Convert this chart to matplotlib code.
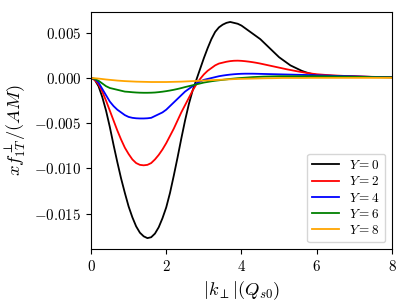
import matplotlib
matplotlib.use("Agg")
import matplotlib.pyplot as plt
from matplotlib.ticker import FuncFormatter

plt.rcParams['mathtext.fontset'] = 'cm'
plt.rcParams['font.family'] = 'serif'
plt.rcParams['font.serif'] = ['cmr10', 'DejaVu Serif']
plt.rcParams['axes.formatter.use_mathtext'] = True

# |k_perp| grid (Q_s0 units)
k = [0.0, 0.1, 0.2, 0.3, 0.4, 0.5, 0.6, 0.7, 0.8, 0.9,
     1.0, 1.1, 1.2, 1.3, 1.4, 1.5, 1.6, 1.7, 1.8, 1.9,
     2.0, 2.1, 2.2, 2.3, 2.4, 2.5, 2.6, 2.7, 2.8, 2.9,
     3.0, 3.1, 3.2, 3.3, 3.4, 3.5, 3.6, 3.7, 3.8, 3.9,
     4.0, 4.1, 4.2, 4.3, 4.4, 4.5, 4.6, 4.7, 4.8, 4.9,
     5.0, 5.1, 5.2, 5.3, 5.4, 5.5, 5.6, 5.7, 5.8, 5.9,
     6.0, 6.25, 6.5, 6.75, 7.0, 7.25, 7.5, 7.75, 8.0]

y0 = [0.0, -0.0002, -0.0009, -0.0021, -0.0036, -0.0054, -0.0074, -0.0093, -0.0111, -0.0127,
      -0.0142, -0.0154, -0.0164, -0.0171, -0.0175, -0.0177, -0.0176, -0.0172, -0.0165, -0.0155,
      -0.0143, -0.0127, -0.0108, -0.0088, -0.0067, -0.0047, -0.0029, -0.0014, -0.0002, 0.0010,
      0.0022, 0.0033, 0.0043, 0.0051, 0.0056, 0.0059, 0.0061, 0.0062, 0.0061, 0.0060,
      0.0058, 0.0055, 0.0052, 0.0049, 0.0046, 0.0043, 0.0039, 0.0035, 0.0031, 0.0027,
      0.0023, 0.0020, 0.0017, 0.0014, 0.0012, 0.0010, 0.0008, 0.00065, 0.00052, 0.00042,
      0.00034, 0.00027, 0.00022, 0.00018, 0.00016, 0.00014, 0.00012, 0.00011, 0.0001]

y2 = [0.0, -0.0002, -0.0007, -0.0015, -0.0025, -0.0036, -0.0047, -0.0058, -0.0068, -0.0077,
      -0.0084, -0.0090, -0.0094, -0.0096, -0.00965, -0.0096, -0.0094, -0.0090, -0.0085, -0.0079,
      -0.0072, -0.0064, -0.0056, -0.0047, -0.0038, -0.0030, -0.0022, -0.0014, -0.0007, -0.0001,
      0.0004, 0.0008, 0.0011, 0.0014, 0.0016, 0.0017, 0.0018, 0.00187, 0.00191, 0.00192,
      0.0019, 0.00186, 0.00181, 0.00175, 0.00168, 0.0016, 0.00151, 0.00142, 0.00133, 0.00124,
      0.00115, 0.00106, 0.00097, 0.00089, 0.00081, 0.00073, 0.00066, 0.00059, 0.00053, 0.00047,
      0.00042, 0.00034, 0.00028, 0.00023, 0.0002, 0.00016, 0.00013, 0.00011, 0.0001]

y4 = [0.0, -0.0001, -0.0005, -0.0012, -0.0019, -0.0026, -0.0031, -0.0035, -0.0038, -0.0041,
      -0.0043, -0.0044, -0.00445, -0.00447, -0.00447, -0.00445, -0.0044, -0.0042, -0.0040, -0.0038,
      -0.0035, -0.0031, -0.0027, -0.0023, -0.0019, -0.0015, -0.0012, -0.0009, -0.0006, -0.0004,
      -0.0002, -0.0001, 0.0, 0.0001, 0.0002, 0.00027, 0.00033, 0.00038, 0.00042, 0.00045,
      0.00047, 0.00048, 0.00048, 0.00048, 0.00047, 0.00046, 0.00045, 0.00044, 0.00043, 0.00042,
      0.00041, 0.0004, 0.00039, 0.00038, 0.00037, 0.00036, 0.00035, 0.00034, 0.00033, 0.00032,
      0.0003, 0.00027, 0.00024, 0.00021, 0.00018, 0.00015, 0.00012, 0.0001, 0.00008]

y6 = [0.0, -0.0001, -0.0003, -0.0006, -0.0009, -0.0011, -0.0012, -0.0013, -0.0014, -0.0015,
      -0.00153, -0.00157, -0.0016, -0.00162, -0.00163, -0.00163, -0.00162, -0.0016, -0.00156, -0.00151,
      -0.00145, -0.00138, -0.0013, -0.00121, -0.00111, -0.001, -0.0009, -0.0008, -0.0007, -0.0006,
      -0.0005, -0.00043, -0.00036, -0.0003, -0.00025, -0.0002, -0.00015, -0.0001, -0.00006, -0.00002,
      0.00001, 0.00004, 0.00007, 0.0001, 0.00012, 0.00014, 0.00016, 0.00017, 0.00018, 0.00019,
      0.0002, 0.0002, 0.0002, 0.0002, 0.0002, 0.0002, 0.0002, 0.0002, 0.0002, 0.0002,
      0.0002, 0.00019, 0.00018, 0.00016, 0.00014, 0.00012, 0.0001, 0.00009, 0.00008]

y8 = [0.0, -0.00002, -0.00006, -0.00011, -0.00016, -0.0002, -0.00024, -0.00028, -0.00031, -0.00034,
      -0.00036, -0.00038, -0.0004, -0.00041, -0.00042, -0.00043, -0.00044, -0.00044, -0.00044, -0.00044,
      -0.00044, -0.00043, -0.00042, -0.00041, -0.0004, -0.00038, -0.00036, -0.00034, -0.00032, -0.0003,
      -0.00028, -0.00026, -0.00024, -0.00022, -0.0002, -0.00018, -0.00016, -0.00014, -0.00012, -0.0001,
      -0.00009, -0.00008, -0.00007, -0.00006, -0.00005, -0.00004, -0.00003, -0.00002, -0.00002, -0.00001,
      0.0, 0.00001, 0.00001, 0.00001, 0.00001, 0.00001, 0.00001, 0.00001, 0.00002, 0.00002,
      0.00002, 0.00002, 0.00002, 0.00002, 0.00002, 0.00002, 0.00002, 0.00002, 0.00002]

curves = [y0, y2, y4, y6, y8]
labels = ['$Y = 0$', '$Y = 2$', '$Y = 4$', '$Y = 6$', '$Y = 8$']
colors = ['black', 'red', 'blue', 'green', 'orange']

fig = plt.figure(figsize=(4.06, 3.04), dpi=100)
ax = fig.add_axes([0.2241, 0.181, 0.7414, 0.7795])

for yy, lab, c in zip(curves, labels, colors):
    ax.plot(k, yy, color=c, lw=1.3, label=lab)

ax.set_xlim(0, 8)
ax.set_ylim(-0.0189, 0.0073)
ax.set_xticks([0, 2, 4, 6, 8])
ax.set_yticks([-0.015, -0.010, -0.005, 0.0, 0.005])
ax.xaxis.set_major_formatter(FuncFormatter(lambda v, p: '$%d$' % v))
ax.yaxis.set_major_formatter(FuncFormatter(lambda v, p: '$%.3f$' % v))
ax.tick_params(labelsize=10.8)

ax.set_xlabel(r'$|k_{\perp}|(Q_{s0})$', fontsize=13.3)
ax.set_ylabel(r'$xf_{1T}^{\perp}/(AM)$', fontsize=13.3)
ax.legend(loc='lower right', fontsize=9.5, labelspacing=0.25)

fig.savefig('out.png', dpi=100)
